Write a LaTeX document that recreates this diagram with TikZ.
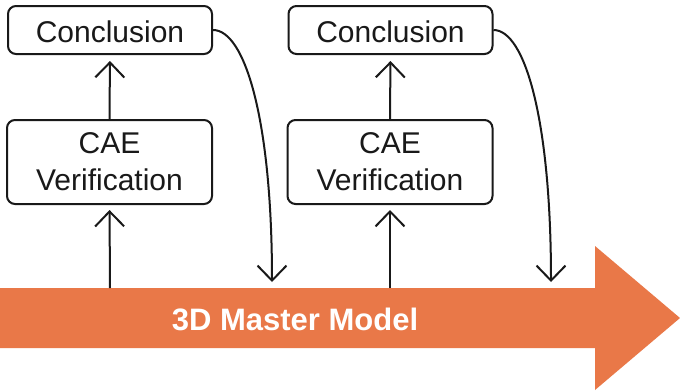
\documentclass[tikz,border=0pt]{standalone}
\usepackage{fontspec}
\setmainfont{Liberation Sans}
\usetikzlibrary{arrows.meta}
\definecolor{barorange}{RGB}{233,120,72}
\definecolor{ink}{RGB}{25,25,25}
\begin{document}
\begin{tikzpicture}[x=1pt,y=-1pt,
  box/.style={draw=ink, fill=white, line width=2pt, rounded corners=8pt,
    inner sep=0pt, text=ink, font=\fontsize{30}{37}\selectfont, align=center},
  concl/.style={box, minimum width=204pt, minimum height=48pt,
    text height=25pt, text depth=0pt},
  verif/.style={box, minimum width=205pt, minimum height=84pt},
  link/.style={draw=ink, line width=2pt,
    -{Straight Barb[length=15pt,width=29pt]}},
]
\useasboundingbox (0,0) rectangle (680,391);
\fill[white] (0,0) rectangle (680,391);

% timeline arrow
\fill[barorange] (0,288) -- (595,288) -- (595,246) -- (680,318)
  -- (595,390) -- (595,348) -- (0,348) -- cycle;
\node[font=\bfseries\fontsize{31}{37}\selectfont, text=white] (model) at (295,319) {3D Master Model};

% attachment points on the timeline
\coordinate (u1) at (110,288);
\coordinate (u2) at (390,288);
\coordinate (d1) at (272,288);
\coordinate (d2) at (551,288);

% boxes
\node[concl] (c1) at (110,30) {Conclusion};
\node[verif] (v1) at (109.5,162) {CAE\\Verification};
\node[concl] (c2) at (390.5,30) {Conclusion};
\node[verif] (v2) at (390,162) {CAE\\Verification};

% connectors
\draw[link, shorten >=5pt] (u1) -- (v1.south);
\draw[link, shorten >=6pt] (v1.north) -- (c1.south);
\draw[link, shorten >=5pt] (u2) -- (v2.south);
\draw[link, shorten >=6pt] (v2.north) -- (c2.south);
\draw[link, shorten >=6pt] (c1.east) .. controls (245,30) and (272,120) .. (d1);
\draw[link, shorten >=6pt] (c2.east) .. controls (525,30) and (551,120) .. (d2);
\end{tikzpicture}
\end{document}
